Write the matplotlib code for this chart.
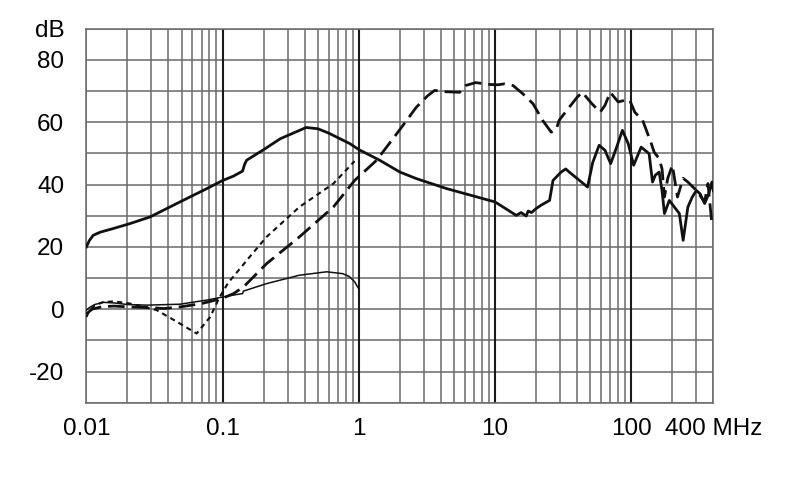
import matplotlib
matplotlib.use("Agg")
import matplotlib.pyplot as plt
from matplotlib.ticker import FixedLocator, NullFormatter

plt.rcParams['font.family'] = ['Liberation Sans', 'DejaVu Sans']

# thick solid curve
f_s1 = [0.01, 0.0105, 0.0112, 0.0126, 0.0158, 0.021, 0.0293, 0.0485, 0.075, 0.1, 0.12, 0.14,
        0.145, 0.15, 0.2, 0.265, 0.35, 0.41, 0.5, 0.6, 0.86, 1.0, 1.42, 2.0, 2.64, 4.4, 10, 14.3,
        15.5, 16.9, 17.5, 18.5, 20, 22, 25.1, 26.6, 30.5, 33, 35, 47.7, 52, 58, 64, 70.5,
        78, 86, 95, 104, 118, 135, 143, 150, 160, 168, 175, 190, 205, 225, 240, 260, 280,
        300, 320, 345, 370, 390, 400]
db_s1 = [20, 22, 23.7, 24.7, 25.9, 27.5, 29.6, 34.4, 38.5, 41.3, 42.7, 44.3,
         46.5, 47.8, 51.2, 54.7, 57, 58.3, 57.9, 56.5, 53.1, 51.2, 47.8, 44, 41.9, 38.7, 34.4, 30.1,
         31, 29.9, 31.5, 31, 32.3, 33.5, 34.9, 41.3, 44, 45, 44, 39.2, 47, 52.6, 51, 46.7,
         52, 57.4, 53, 46.2, 52, 49.9, 40.8, 43, 44, 38, 30.7, 34.9, 33, 30.7, 22.1, 32.8, 36,
         38.1, 37, 33.9, 37, 40.8, 38]

# long dashed curve
f_d1 = [0.01, 0.011, 0.013, 0.016, 0.021, 0.03, 0.037, 0.05, 0.07, 0.1, 0.12, 0.142, 0.21,
        0.366, 0.65, 0.93, 1.35, 1.98, 2.64, 3.2, 3.6, 4.2, 5.5, 6.1, 7.2, 9.1, 10.5, 11.7,
        13.5, 16, 19, 22.3, 25.8, 28, 29.5, 35, 40, 43.6, 51.4, 59, 64, 70, 80, 89, 97, 106,
        121, 139, 147, 160, 168, 175, 185, 200, 218, 240, 260, 300, 345, 365, 390]
db_d1 = [-1.5, 0, 0.8, 1.0, 0.7, 0.5, 0.2, 0.8, 1.8, 3.5, 5, 7.1, 14.6,
         23.2, 32.8, 41.3, 47.8, 57.4, 64.8, 68.5, 70.2, 69.8, 69.6, 71.8, 72.7, 72.1, 72, 72.3,
         71.8, 69.1, 65.9, 60.6, 56.8, 57.5, 60.6, 64.8, 68, 69.6, 65.9, 63.2, 65.4, 69.6, 66.5,
         67, 67.2, 63.2, 60.6, 53.6, 50.4, 48.3, 45, 36, 42, 46.2, 36, 42, 40.8, 38.1, 34.4,
         40.3, 27.5]

# short dashed curve
f_d2 = [0.01, 0.0105, 0.0115, 0.0133, 0.016, 0.021, 0.0328, 0.046, 0.0644, 0.081, 0.095,
        0.11, 0.158, 0.21, 0.366, 0.65, 0.93]
db_d2 = [-2.5, -0.5, 1.2, 2.3, 2.5, 1.8, -0.3, -4, -7.8, -2.5, 3.9,
         8.5, 16.8, 23.2, 32.8, 40.3, 47.5]

# thin solid curve
f_s2 = [0.01, 0.0105, 0.0115, 0.0133, 0.016, 0.02, 0.0277, 0.0485, 0.076, 0.1, 0.13, 0.14,
        0.142, 0.21, 0.366, 0.58, 0.76, 0.85, 0.93, 0.98, 1.0]
db_s2 = [-0.3, 0.5, 1.5, 2.2, 2.0, 1.5, 1.3, 1.6, 2.9, 3.9, 4.8, 5.0,
         5.8, 8.2, 10.9, 12, 11.4, 10.5, 8.8, 7.1, 6.5]

x_ticks = [0.01, 0.1, 1, 10, 100, 400]
x_labels = ['0.01', '0.1', '1', '10', '100', '400 MHz']
y_ticks = [-20, 0, 20, 40, 60, 80, 90]
y_labels = ['-20', '0', '20', '40', '60', '80', 'dB']

fig = plt.figure(figsize=(7.9, 4.99), dpi=100)
ax = fig.add_axes([0.1094, 0.193, 0.7936, 0.7495])

ax.set_xscale('log')
ax.set_xlim(0.01, 400)
ax.set_ylim(-30, 90)

minor_x = [m * 10.0 ** e for e in range(-2, 2) for m in range(2, 10)] + [200, 300]
ax.xaxis.set_minor_locator(FixedLocator(minor_x))
ax.xaxis.set_minor_formatter(NullFormatter())
ax.set_xticks(x_ticks)
ax.set_xticklabels(x_labels)
ax.yaxis.set_minor_locator(FixedLocator(list(range(-30, 91, 10))))
ax.set_yticks(y_ticks)
ax.set_yticklabels(y_labels)

ax.grid(which='both', color='#6a6a6a', lw=1.1)
for d in [0.1, 1, 10, 100]:
    ax.axvline(d, color='#1a1a1a', lw=1.5, zorder=1)
ax.set_axisbelow(True)
for s in ax.spines.values():
    s.set_color('#6a6a6a')
    s.set_linewidth(1.1)

ax.tick_params(which='both', length=0)
ax.tick_params(axis='y', pad=16, labelsize=17.5)
ax.tick_params(axis='x', pad=11, labelsize=17.5)

ax.plot(f_s1, db_s1, color='#111111', lw=2.0, zorder=3)
ax.plot(f_d1, db_d1, color='#111111', lw=2.0, dashes=(6, 2.5), zorder=3)
ax.plot(f_d2, db_d2, color='#111111', lw=1.5, dashes=(2.5, 2), zorder=3)
ax.plot(f_s2, db_s2, color='#111111', lw=1.1, zorder=3)

fig.savefig('out.png', dpi=100)
